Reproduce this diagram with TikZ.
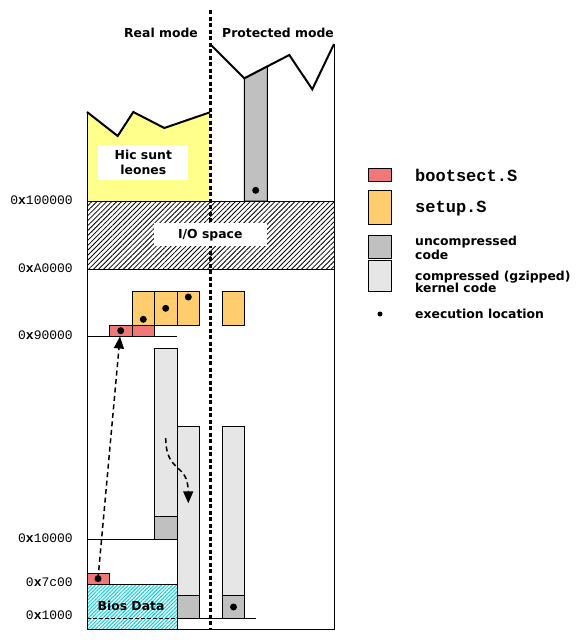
\documentclass[tikz,border=0pt]{standalone}
\usepackage{fontspec}
\usetikzlibrary{patterns.meta,arrows.meta}
\newfontfamily\labfont{DejaVu Sans}
\newfontfamily\monofont{Liberation Mono}
\definecolor{hicyel}{RGB}{255,255,140}
\definecolor{setuporange}{RGB}{255,205,110}
\definecolor{bootred}{RGB}{240,120,120}
\definecolor{uncgray}{RGB}{192,192,192}
\definecolor{compgray}{RGB}{230,230,230}
\definecolor{bioscyan}{RGB}{0,210,230}
\tikzset{
  lab/.style={font=\labfont\bfseries\fontsize{12.4}{13}\selectfont, inner sep=0pt},
  addr/.style={font=\monofont\fontsize{13}{14}\selectfont, anchor=east, inner sep=0pt},
  leg/.style={font=\monofont\bfseries\fontsize{17}{18}\selectfont, anchor=west, inner sep=0pt},
  edot/.style={circle, fill=black, inner sep=0pt, minimum size=7pt},
  ldot/.style={circle, fill=black, inner sep=0pt, minimum size=5pt},
  box/.style={draw=black, line width=1pt},
  zig/.style={line width=2pt, line join=miter},
  sep/.style={line width=3pt, dash pattern=on 4pt off 2.5pt},
  flow/.style={line width=1.5pt, dash pattern=on 5pt off 3.5pt, -{Triangle[length=12pt,width=10pt]}},
  thinline/.style={line width=1pt},
  dashline/.style={line width=1pt, dash pattern=on 4pt off 2pt}
}
\begin{document}
\begin{tikzpicture}[x=1pt,y=-1pt]
\useasboundingbox (0,0) rectangle (582,640);

% unknown region (real mode)
\fill[hicyel] (87,112) -- (117.7,136) -- (133.3,112) -- (164.3,128) -- (210,112.3) -- (210,201) -- (87,201) -- cycle;
% uncompressed kernel in protected mode
\filldraw[fill=uncgray, thinline] (244.3,78.3) -- (267.3,66.4) -- (267.3,201) -- (244.3,201) -- cycle;

% I/O space
\draw[thinline, pattern={Lines[angle=45,distance=3.5pt,line width=0.8pt]}, pattern color=black] (87,201) rectangle (334,269);

% setup.S copies
\draw[box, fill=setuporange] (132.3,291.3) rectangle (154.3,325.3);
\draw[box, fill=setuporange] (154.3,291.3) rectangle (177.3,325.3);
\draw[box, fill=setuporange] (177.3,291.3) rectangle (199.3,325.3);
\draw[box, fill=setuporange] (222.7,291.3) rectangle (244.3,325.3);
% bootsect copies at 0x90000
\draw[box, fill=bootred] (109.7,325.3) rectangle (132.3,336);
\draw[box, fill=bootred] (132.3,325.3) rectangle (154.3,336);
\draw[thinline] (87,336) -- (176.7,336);

% compressed kernel columns
\draw[box, fill=compgray] (154.3,348.3) rectangle (177,539);
\draw[box, fill=uncgray] (154.3,516.3) rectangle (177,539);
\draw[dashline] (154.3,516.3) -- (177,516.3);

\draw[box, fill=compgray] (177,426.3) rectangle (199.3,618);
\draw[box, fill=uncgray] (177,595.7) rectangle (199.3,618);
\draw[dashline] (177,595.7) -- (199.3,595.7);

\draw[box, fill=compgray] (222.7,426.3) rectangle (244.3,618);
\draw[box, fill=uncgray] (222.7,595.7) rectangle (244.3,618);
\draw[dashline] (222.7,595.7) -- (244.3,595.7);

% 0x10000 line
\draw[thinline] (87,539) -- (154.3,539);

% Bios data and bootsect at 0x7c00
\draw[box, pattern={Lines[angle=45,distance=2.6pt,line width=1pt]}, pattern color=bioscyan] (87,584.3) rectangle (177,629);
\draw[dashline] (87,618) -- (177,618);
\draw[box, fill=bootred] (87,573) rectangle (109.7,584.3);
\draw[thinline] (177,618) -- (255.7,618);

% frame
\draw[thinline] (87,112) -- (87,629) -- (334,629) -- (334,44);
\draw[zig] (87,112) -- (117.7,136) -- (133.3,112) -- (164.3,128) -- (210,112.3);
\draw[zig] (210,44) -- (244.3,78.3) -- (289.3,55) -- (312.3,89.3) -- (334,44);

% real / protected separator
\draw[sep] (210,10) -- (210,630);

% label boxes
\node[lab, fill=white, minimum width=90pt, minimum height=35pt, align=center, font=\labfont\bfseries\fontsize{12.4}{15}\selectfont] (hic) at (143.3,162.5) {Hic sunt\\leones};
\node[lab, fill=white, minimum width=112.7pt, minimum height=22.7pt] (io) at (210.3,234.7) {I/O space};
\node[lab] (bios) at (131,606) {Bios Data};

% arrows
\node[edot] (d7c) at (98,578.7) {};
\coordinate (t9) at (120,336.5);
\draw[flow] (d7c.center) -- (t9);
\coordinate (c1s) at (165.7,438);
\coordinate (c1e) at (188.3,503.3);
\draw[flow] (c1s) .. controls (166,474) and (188,462) .. (c1e);

% execution locations
\node[edot] (d90) at (120.7,330.7) {};
\node[edot] (ds1) at (143.3,319.3) {};
\node[edot] (ds2) at (165.7,308.3) {};
\node[edot] (ds3) at (188.3,297) {};
\node[edot] (dpm) at (255.7,190.3) {};
\node[edot] (dk) at (233.5,607) {};

% headings
\node[lab] (real) at (161,33) {Real mode};
\node[lab] (prot) at (278,33) {Protected mode};

% addresses
\node[addr] (a1) at (73,200) {0\textbf{x}100000};
\node[addr] (a2) at (73,268) {0\textbf{x}A0000};
\node[addr] (a3) at (73,335) {0\textbf{x}90000};
\node[addr] (a4) at (73,538) {0\textbf{x}10000};
\node[addr] (a5) at (73,582) {0\textbf{x}7c00};
\node[addr] (a6) at (73,615) {0\textbf{x}1000};

% legend
\draw[box, fill=bootred] (368.3,168.3) rectangle (391.7,181.7);
\node[leg] (lb) at (415,175) {bootsect.S};
\draw[box, fill=setuporange] (368.3,190) rectangle (391.7,224);
\node[leg] (ls) at (415,208.3) {setup.S};
\draw[box, fill=uncgray] (368.3,235.3) rectangle (391.7,258.3);
\node[lab, anchor=west, align=left, font=\labfont\bfseries\fontsize{12.4}{14}\selectfont] (lu) at (415,248) {uncompressed\\code};
\draw[box, fill=compgray] (368.3,260) rectangle (391.7,291.7);
\node[lab, anchor=west, align=left, font=\labfont\bfseries\fontsize{12.4}{12.5}\selectfont] (lc) at (415,282) {compressed (gzipped)\\kernel code};
\node[ldot] (ld) at (380,314) {};
\node[lab, anchor=west] (le) at (415,314) {execution location};
\end{tikzpicture}
\end{document}
